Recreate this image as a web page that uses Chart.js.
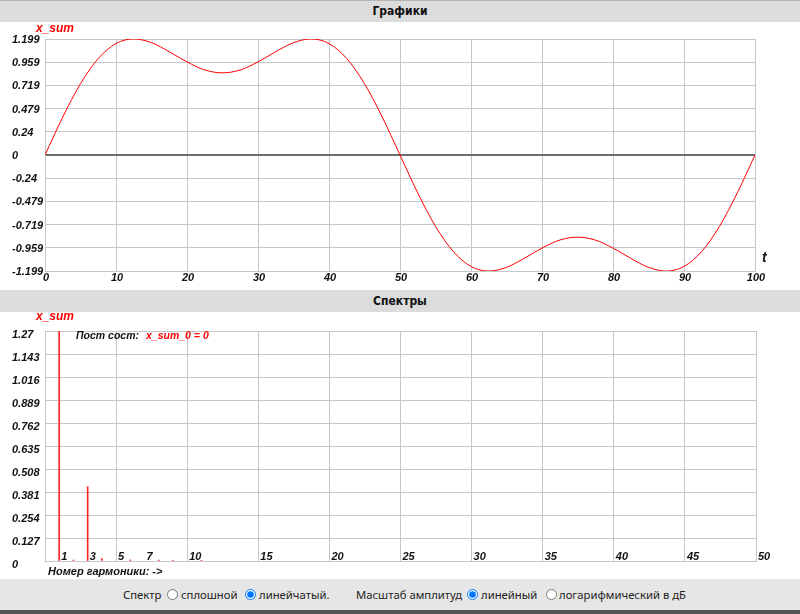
<!DOCTYPE html>
<html>
<head>
<meta charset="utf-8">
<script src="https://cdn.jsdelivr.net/npm/chart.js@4/dist/chart.umd.min.js"></script>
<style>
  body { margin: 0; width: 800px; height: 614px; overflow: hidden; background: #fff; position: relative; font-family: "Liberation Sans", Arial, sans-serif; }
  .hdr { position: absolute; left: 0; width: 800px; height: 22px; background: #dcdcdc; text-align: center;
         font: bold 12px "DejaVu Sans Condensed", "DejaVu Sans", sans-serif; line-height: 22px; color: #111; }
  #h1 { top: 0; border-top: 1px solid #b4b4b4; height: 21px; line-height: 21px; }
  #h2 { top: 290px; }
  .box { position: absolute; left: 0; width: 800px; }
  #controls { position: absolute; left: 0; top: 579px; width: 800px; height: 31px; background: #e6e6e6;
              border-bottom: 4px solid #555; font: 11.3px "Noto Sans", "DejaVu Sans", sans-serif; color: #222; }
  #controls span, #controls input { position: absolute; top: 8px; margin: 0; }
  #controls input { top: 10px; width: 11px; height: 11px; }
</style>
</head>
<body>
<div class="hdr" id="h1">Графики</div>
<div class="box" style="top:22px;height:268px"><canvas id="signalChart" width="800" height="268"></canvas></div>
<div class="hdr" id="h2">Спектры</div>
<div class="box" style="top:312px;height:267px"><canvas id="spectrumChart" width="800" height="267"></canvas></div>
<div id="controls">
  <span style="left:123px">Спектр</span>
  <input type="radio" name="sp" style="left:167px">
  <span style="left:181px">сплошной</span>
  <input type="radio" name="sp" style="left:245px" checked>
  <span style="left:259px">линейчатый.</span>
  <span style="left:356px">Масштаб амплитуд</span>
  <input type="radio" name="sc" style="left:467px" checked>
  <span style="left:481px">линейный</span>
  <input type="radio" name="sc" style="left:546px">
  <span style="left:559px">логарифмический в дБ</span>
</div>
<script>
// signal x_sum(t)
const tValues = [0, 2.5, 5, 7.5, 10, 12.5, 15, 17.5, 20, 22.5, 25, 27.5, 30, 32.5, 35, 37.5, 40, 42.5, 45, 47.5,
  50, 52.5, 55, 57.5, 60, 62.5, 65, 67.5, 70, 72.5, 75, 77.5, 80, 82.5, 85, 87.5, 90, 92.5, 95, 97.5, 100];
const xSum = [0, 0.392, 0.737, 0.997, 1.152, 1.2, 1.161, 1.068, 0.962, 0.879, 0.849, 0.879, 0.962, 1.068, 1.161, 1.2,
  1.152, 0.997, 0.737, 0.392, 0, -0.392, -0.737, -0.997, -1.152, -1.2, -1.161, -1.068, -0.962, -0.879, -0.849,
  -0.879, -0.962, -1.068, -1.161, -1.2, -1.152, -0.997, -0.737, -0.392, 0];
const signalYTicks = [-1.199, -0.959, -0.719, -0.479, -0.24, 0, 0.24, 0.479, 0.719, 0.959, 1.199];

// spectrum: harmonic number and amplitude
const harmonics = [1, 2, 3, 4, 6, 8, 9, 11];
const amplitudes = [1.27, 0.005, 0.41, 0.014, 0.006, 0.005, 0.004, 0.004];
const spectrumYTicks = [0, 0.127, 0.254, 0.381, 0.508, 0.635, 0.762, 0.889, 1.016, 1.143, 1.27];
const spectrumXTicks = [0, 1, 3, 5, 7, 10, 15, 20, 25, 30, 35, 40, 45, 50];

const tickFont = { family: "'Liberation Sans', Arial, sans-serif", size: 11, weight: 'bold', style: 'italic' };
const tickFontCss = "bold italic 11px 'Liberation Sans', Arial, sans-serif";
const gridGray = '#c6c6c6';

// extra captions drawn on the canvas
function textPlugin(items) {
    return {
        id: 'captions',
        afterDraw(chart) {
            const ctx = chart.ctx;
            ctx.save();
            items.forEach(it => {
                ctx.font = it.font;
                ctx.fillStyle = it.color;
                ctx.textBaseline = 'middle';
                ctx.textAlign = 'left';
                ctx.fillText(it.text, it.x, it.y);
            });
            ctx.restore();
        }
    };
}

// harmonic numbers sit inside the plot, just above the bottom line
const harmonicLabels = {
    id: 'harmonicLabels',
    afterDraw(chart) {
        const ctx = chart.ctx;
        const xs = chart.scales.x;
        ctx.save();
        ctx.font = tickFontCss;
        ctx.fillStyle = '#111';
        ctx.textBaseline = 'middle';
        ctx.textAlign = 'left';
        spectrumXTicks.forEach(v => {
            if (v === 0) return;
            ctx.fillText(String(v), xs.getPixelForValue(v) + 2, chart.chartArea.bottom - 4);
        });
        ctx.restore();
    }
};

new Chart(document.getElementById('signalChart'), {
    type: 'line',
    data: {
        datasets: [{
            data: tValues.map((t, i) => ({ x: t, y: xSum[i] })),
            borderColor: '#ff0000',
            borderWidth: 1,
            pointRadius: 0,
            cubicInterpolationMode: 'monotone'
        }]
    },
    options: {
        responsive: false,
        animation: false,
        layout: { padding: { left: 12, right: 45, top: 17, bottom: 0 } },
        plugins: { legend: { display: false }, tooltip: { enabled: false } },
        scales: {
            x: {
                type: 'linear', min: 0, max: 100,
                afterFit: s => { s.height = 19; },
                ticks: { stepSize: 10, font: tickFont, color: '#111', padding: 0, labelOffset: 1, maxRotation: 0 },
                grid: { color: gridGray, drawTicks: false },
                border: { color: gridGray }
            },
            y: {
                min: -1.199, max: 1.199,
                afterFit: s => { s.width = 33; },
                afterBuildTicks: s => { s.ticks = signalYTicks.map(v => ({ value: v })); },
                ticks: { font: tickFont, color: '#111', crossAlign: 'far', labelOffset: 1, callback: v => String(v) },
                grid: {
                    drawTicks: false,
                    color: c => c.tick && c.tick.value === 0 ? '#6e6e6e' : gridGray,
                    lineWidth: c => c.tick && c.tick.value === 0 ? 2 : 1
                },
                border: { color: gridGray }
            }
        }
    },
    plugins: [textPlugin([
        { text: 'x_sum', x: 36, y: 7, color: '#ff0000', font: "bold italic 12px 'Liberation Sans', Arial, sans-serif" },
        { text: 't', x: 762, y: 236, color: '#111', font: "bold italic 14px 'Liberation Sans', Arial, sans-serif" }
    ])]
});

new Chart(document.getElementById('spectrumChart'), {
    type: 'bar',
    data: {
        datasets: [{
            data: harmonics.map((h, i) => ({ x: h, y: amplitudes[i] })),
            backgroundColor: '#ff2020',
            barThickness: 1
        }]
    },
    options: {
        responsive: false,
        animation: false,
        layout: { padding: { left: 12, right: 44, top: 19, bottom: 0 } },
        plugins: { legend: { display: false }, tooltip: { enabled: false } },
        scales: {
            x: {
                type: 'linear', min: 0, max: 50, offset: false,
                afterFit: s => { s.height = 18; },
                afterBuildTicks: s => { s.ticks = spectrumXTicks.map(v => ({ value: v })); },
                ticks: { display: false },
                grid: {
                    offset: false,
                    drawTicks: false,
                    color: c => c.tick && c.tick.value % 5 === 0 ? gridGray : 'rgba(0,0,0,0)'
                },
                border: { color: gridGray }
            },
            y: {
                min: 0, max: 1.27,
                afterFit: s => { s.width = 33; },
                afterBuildTicks: s => { s.ticks = spectrumYTicks.map(v => ({ value: v })); },
                ticks: { font: tickFont, color: '#111', crossAlign: 'far', labelOffset: 4, callback: v => String(v) },
                grid: { color: gridGray, drawTicks: false },
                border: { color: gridGray }
            }
        }
    },
    plugins: [harmonicLabels, textPlugin([
        { text: 'x_sum', x: 36, y: 5, color: '#ff0000', font: "bold italic 12px 'Liberation Sans', Arial, sans-serif" },
        { text: 'Пост сост:', x: 76, y: 24, color: '#111', font: "bold italic 10.5px 'Liberation Sans', Arial, sans-serif" },
        { text: 'x_sum_0 = 0', x: 146, y: 24, color: '#ff0000', font: "bold italic 10.5px 'Liberation Sans', Arial, sans-serif" },
        { text: 'Номер гармоники: ->', x: 48, y: 260, color: '#111', font: "bold italic 11px 'Liberation Sans', Arial, sans-serif" }
    ])]
});
</script>
</body>
</html>
